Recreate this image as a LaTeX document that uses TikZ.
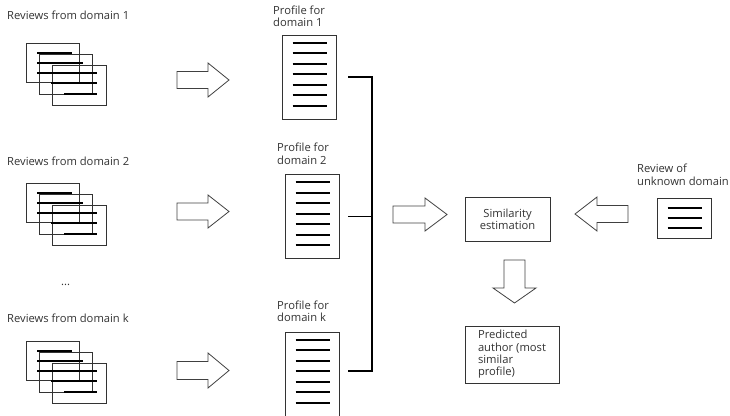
\documentclass[tikz,border=0pt]{standalone}
\usepackage{fontspec}
\setmainfont{Open Sans}
\usetikzlibrary{calc}
\tikzset{
  every node/.style={
    font=\fontsize{11.2}{12.3}\selectfont,
    text=black!80,
    inner sep=0pt
  },
  heading/.style={
    anchor=base west,
    align=left
  },
  sheet/.style={
    draw=black!80,
    line width=0.8pt
  },
  textline/.style={
    line width=1.8pt,
    black
  },
  bus/.style={
    line width=1.4pt
  },
  outline arrow/.style={
    draw=black!75,
    line width=0.8pt
  },
  profile/.style={
    sheet,
    minimum width=54pt,
    minimum height=84pt
  },
  pics/review stack/.style={
    code={
      \draw[sheet] (0,0) rectangle (53,39) (13,11) rectangle (66,51) (26,22) rectangle (80,62);
      \draw[textline] (11,10) -- (46,10) (11,20) -- (57,20) (11,30) -- (71,30)
        (25,40) -- (71,40) (38,51) -- (71,51);
    }
  },
  pics/hollow arrow/.style n args={4}{
    code={
      \draw[outline arrow] (0,-#2) -- ({#1-#4},-#2) -- ({#1-#4},-#3) -- (#1,0)
        -- ({#1-#4},#3) -- ({#1-#4},#2) -- (0,#2) -- cycle;
    }
  }
}

\begin{document}
\begin{tikzpicture}[x=1pt,y=-1pt]
\useasboundingbox (0,0) rectangle (730,415);

% review collections
\node [heading] (t1) at (7,19.5) {Reviews from domain 1};
\node [heading] (t2) at (7,165) {Reviews from domain 2};
\node [heading] (dots) at (61,285) {...};
\node [heading] (tk) at (7,322) {Reviews from domain k};
\pic (r1) at (26,43) {review stack};
\pic (r2) at (26,183) {review stack};
\pic (rk) at (26,341) {review stack};

\pic (a1) at (177,80) {hollow arrow={52}{8.5}{17}{21}};
\pic (a2) at (177,211.5) {hollow arrow={52}{8.5}{16.5}{21}};
\pic (ak) at (177,370.5) {hollow arrow={52}{9}{17.5}{21}};

% profiles (base = last line)
\node [heading] (pt1) at (273,26.5) {Profile for\\domain 1};
\node [heading] (pt2) at (277,164) {Profile for\\domain 2};
\node [heading] (ptk) at (277,321.7) {Profile for\\domain k};
\node [profile] (p1) at (309,77) {};
\node [profile] (p2) at (312,216.5) {};
\node [profile] (pk) at (312,374) {};
\foreach \n in {p1,p2,pk}
  \foreach \i in {0,...,6}
    \draw [textline] ($(\n.north west)+(11,{8+\i*10.5})$) -- +(34,0);

\coordinate (bus) at (372,0);
\draw [bus] ([xshift=12pt]p1.east) -- (p1.east -| bus) -- ($(pk.east -| bus)+(0,-3)$)
  -- ($(pk.east)+(9,-3)$);
\draw [bus] ([xshift=9pt]p2.east) -- (p2.east -| bus);

% estimation
\pic (am) at (393,214.5) {hollow arrow={54}{8.5}{16.5}{22}};
\node [sheet, minimum width=85pt, minimum height=44pt, align=center] (sim)
  at (507.5,219) {Similarity\\estimation};

\node [heading] (ut) at (637,185) {Review of\\unknown domain};
\node [sheet, minimum width=54pt, minimum height=40pt] (unk) at (684,218) {};
\foreach \i in {10,20,30}
  \draw [textline] ($(unk.north west)+(11,\i)$) -- +(34,0);
\pic [rotate=180] (au) at (628,214) {hollow arrow={53}{8.5}{17}{22}};

\pic [rotate=-90] (ad) at (514.5,260) {hollow arrow={43}{10.5}{21.5}{15}};
\node [sheet, minimum width=94pt, minimum height=57pt, align=left] (pred)
  at (512,354.5) {Predicted\\author (most\\similar\\profile)};

\end{tikzpicture}
\end{document}
